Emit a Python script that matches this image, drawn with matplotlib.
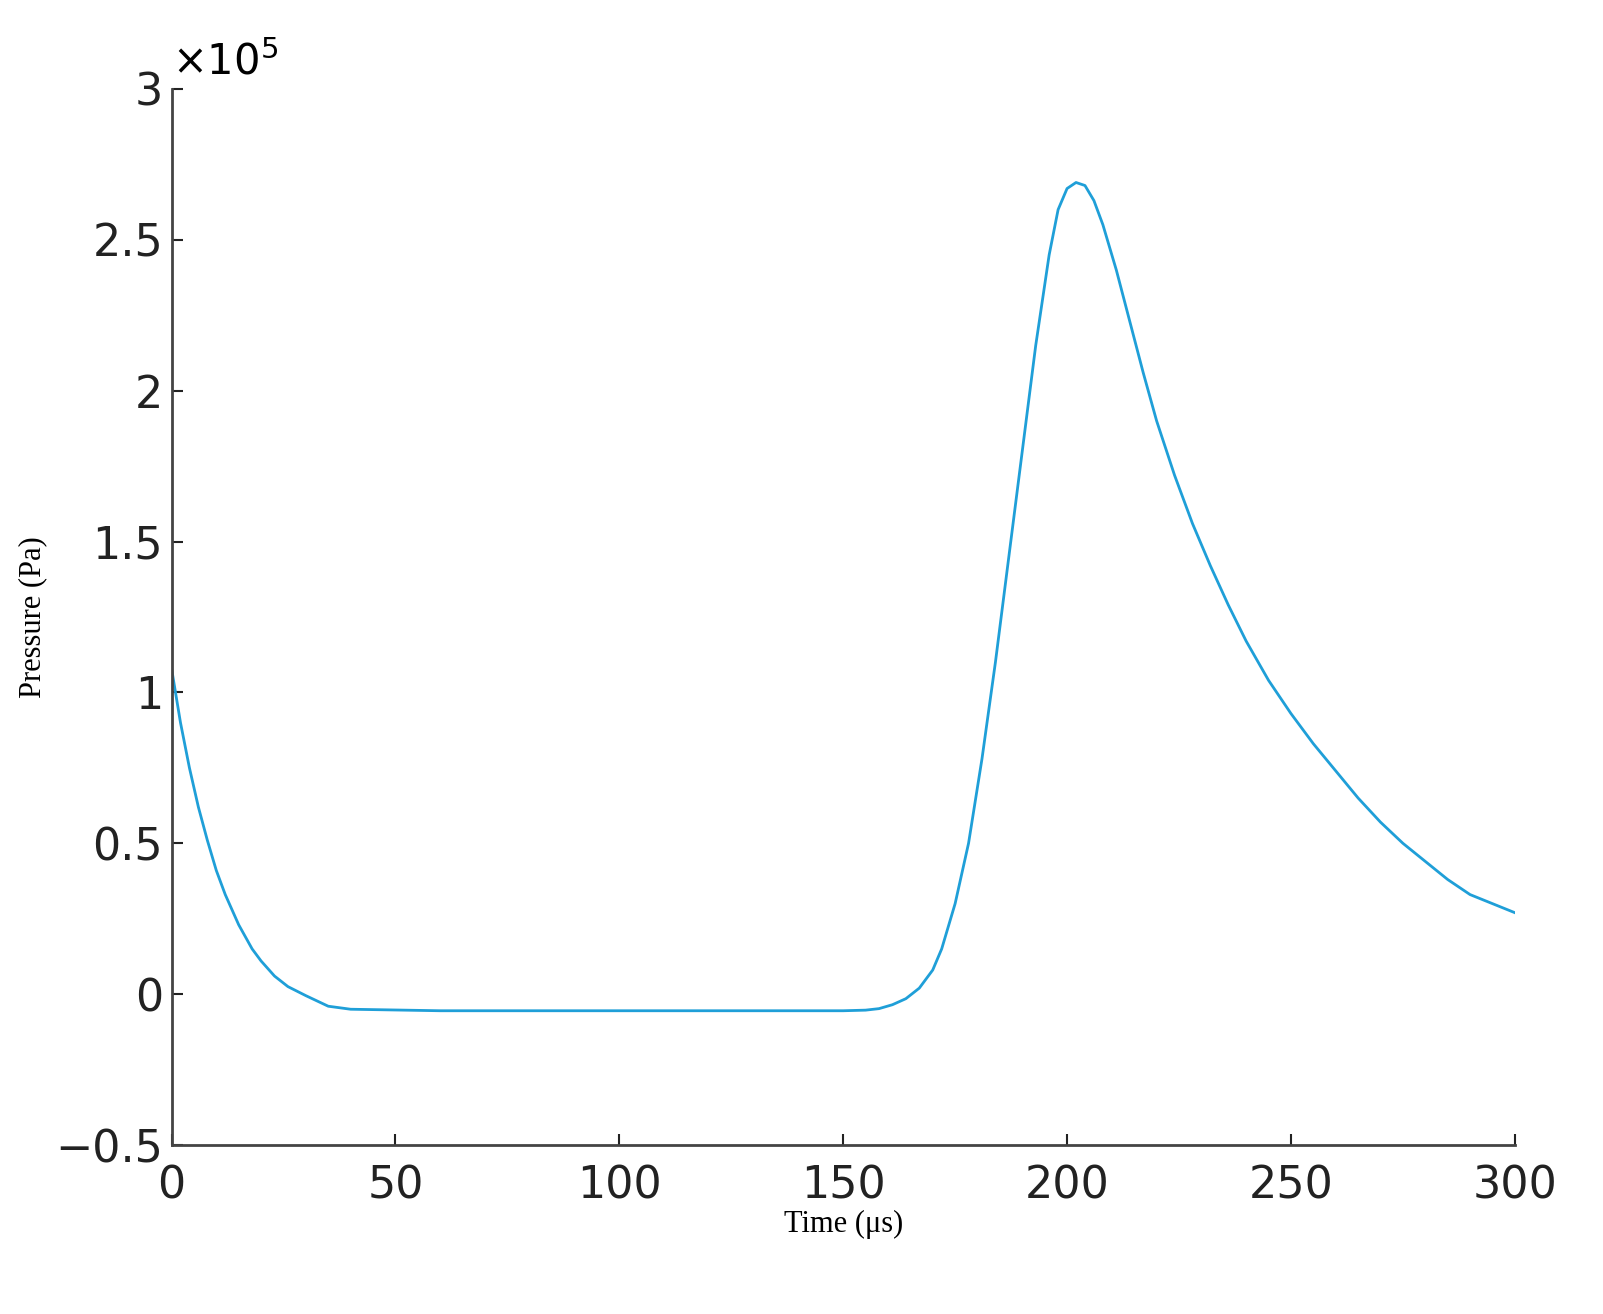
import matplotlib.pyplot as plt

# values (pressure in 1e5 Pa)
time_us = [0, 2, 4, 6, 8, 10, 12, 15, 18, 20, 23, 26, 30, 35, 40, 60, 100, 150,
           155, 158, 161, 164, 167, 170, 172, 175, 178, 181, 184, 187, 190, 193, 196,
           198, 200, 202, 204, 206, 208, 211, 214, 217, 220, 224, 228, 232, 236, 240,
           245, 250, 255, 260, 265, 270, 275, 280, 285, 290, 295, 300]
pressure = [1.08, 0.9, 0.75, 0.62, 0.51, 0.41, 0.33, 0.23, 0.15, 0.11, 0.06, 0.025,
            -0.005, -0.04, -0.05, -0.055, -0.055, -0.055,
            -0.053, -0.048, -0.035, -0.015, 0.02, 0.08, 0.15, 0.3, 0.5, 0.78, 1.1,
            1.45, 1.8, 2.15, 2.45, 2.6, 2.67, 2.69, 2.68, 2.63, 2.55, 2.4, 2.23, 2.06,
            1.9, 1.72, 1.56, 1.42, 1.29, 1.17, 1.04, 0.93, 0.83, 0.74, 0.65, 0.57,
            0.5, 0.44, 0.38, 0.33, 0.3, 0.27]

fig = plt.figure(figsize=(16.03, 13.14), dpi=100)
ax = fig.add_axes([0.107, 0.1286, 0.838, 0.8037])
ax.plot(time_us, pressure, color='#1f9fd8', lw=2)

ax.set_xlim(0, 300)
ax.set_ylim(-0.5, 3)
ax.set_xticks([0, 50, 100, 150, 200, 250, 300])
ax.set_yticks([-0.5, 0, 0.5, 1, 1.5, 2, 2.5, 3])
ax.set_yticklabels(['\u22120.5', '0', '0.5', '1', '1.5', '2', '2.5', '3'])
ax.tick_params(labelsize=32, direction='in', length=8, width=1.5, colors='#222222')
ax.tick_params(axis='x', pad=14)
ax.tick_params(axis='y', pad=6)
for s in ['top', 'right']:
    ax.spines[s].set_visible(False)
for s in ['left', 'bottom']:
    ax.spines[s].set_linewidth(2)
    ax.spines[s].set_color('#444444')

ax.text(0.0, 1.005, r'$\times10^5$', transform=ax.transAxes, fontsize=30, ha='left', va='bottom')
ax.set_xlabel('Time (\u03bcs)', family='Liberation Serif', fontsize=22, labelpad=2)
ax.set_ylabel('Pressure (Pa)', family='Liberation Serif', fontsize=22, labelpad=6)

fig.savefig('out.png', dpi=100)
